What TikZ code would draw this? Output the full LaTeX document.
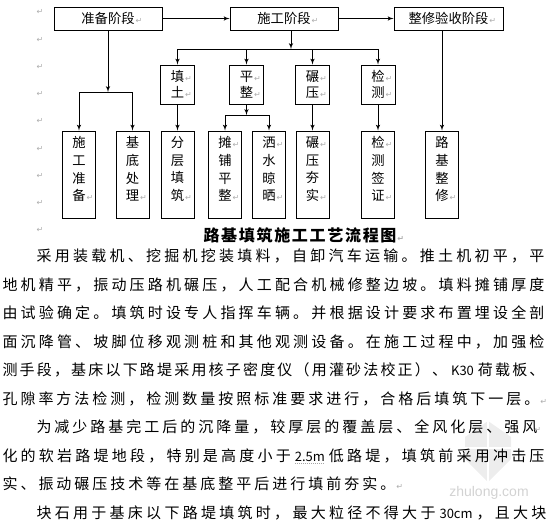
\documentclass[tikz,border=0pt]{standalone}
\usepackage{fontspec}
\usepackage{xcolor}
\usepackage{tikz}
\usetikzlibrary{arrows,calc,positioning}
\setmainfont{Noto Sans CJK SC}
\newfontfamily\markfont{DejaVu Sans}
\newfontfamily\wmfont{Liberation Sans}
% spacing between Chinese characters
\newdimen\hangap
\hangap=3pt
\chardef\hanclass=10
\newcount\hancount
\newcommand\sethanrange[2]{%
	\hancount=#1\relax
	\loop
		\XeTeXcharclass\hancount=\hanclass
	\ifnum\hancount<#2\relax
		\advance\hancount by 1\relax
	\repeat}
\sethanrange{"3000}{"303F}
\sethanrange{"4E00}{"9FFF}
\sethanrange{"FF00}{"FFEF}
\XeTeXinterchartoks\hanclass\hanclass={\hskip\hangap plus 1fil\relax}
\newcommand\boxfont{\fontsize{13.3}{16}\selectfont}
\newcommand\workfont{\fontsize{13.3}{17.7}\selectfont}
\newcommand\bodyfont{\fontsize{15}{15}\selectfont\XeTeXinterchartokenstate=1 \hangap=3pt\relax}
\newcommand\titlefont{\fontsize{16}{16}\selectfont\bfseries\XeTeXinterchartokenstate=1 \hangap=1.7pt\relax}
\newcommand\pmark{\rlap{\kern1pt\textcolor{gray!65}{\markfont\fontsize{8}{8}\selectfont ↵}}}
\newcommand\latin[1]{\hspace{4pt}{\fontsize{13}{13}\selectfont#1}\hspace{4pt}}
\newcommand\dotul[1]{\setbox0=\hbox{#1}\rlap{\raisebox{-2.5pt}{\color{gray!70}\hbox to \wd0{\leaders\hbox to 2pt{\vrule width 1pt height .7pt\hss}\hfil}}}\box0}
\tikzset{%
	stagebox/.style = {draw, rectangle, minimum width=108pt, minimum height=23pt, font=\boxfont},
	stepbox/.style  = {draw, rectangle, minimum width=34pt, minimum height=39pt, align=center, font=\boxfont},
	workbox/.style  = {draw, rectangle, minimum width=33pt, minimum height=87pt, align=center, font=\workfont},
	waypoint/.style = {coordinate},
	bodyline/.style = {anchor=base west, inner sep=0pt, font=\bodyfont},
	retmark/.style  = {inner sep=0pt, text=gray!65, font=\markfont\fontsize{8}{8}\selectfont},
}

\begin{document}
\begin{tikzpicture}[x=1pt,y=-1pt,>=latex',line width=1pt]
	\useasboundingbox (0,0) rectangle (550,520);
	% stages
	\node [stagebox] (zb) at (108,18.5) {准备阶段\pmark};
	\node [stagebox] (sg) [right of=zb,node distance=176pt] {施工阶段\pmark};
	\node [stagebox,minimum width=109pt] (zx) [right of=sg,node distance=164.5pt] {整修验收阶段\pmark};
	
	% work steps
	\node [workbox] (sgzb) at (79,174.5) {施\\工\\准\\备\pmark\\[-6pt]\mbox{}};
	\node [workbox] (jdcl) [right of=sgzb,node distance=53.5pt] {基\\底\\处\\理\pmark\\[-6pt]\mbox{}};
	\node [workbox] (fctz) [right of=jdcl,node distance=45pt] {分\\层\\填\\筑\pmark\\[-6pt]\mbox{}};
	\node [workbox] (tppz) [right of=fctz,node distance=47.5pt] {摊\pmark\\铺\\平\\整\pmark\\[-6pt]\mbox{}};
	\node [workbox] (ssll) [right of=tppz,node distance=44pt] {洒\pmark\\水\\晾\\晒\pmark\\[-6pt]\mbox{}};
	\node [workbox] (nyhs) [right of=ssll,node distance=43.5pt] {碾\pmark\\压\\夯\\实\pmark\\[-6pt]\mbox{}};
	\node [workbox] (jcqz) [right of=nyhs,node distance=65.5pt] {检\pmark\\测\\签\\证\pmark\\[-6pt]\mbox{}};
	\node [workbox] (ljzx) [right of=jcqz,node distance=64pt] {路\\基\\整\\修\pmark\\[-6pt]\mbox{}};
	
	\node [stepbox] (tt) [above of=fctz,node distance=90pt] {填\pmark\\土\pmark};
	\node [stepbox] (pz) [right of=tt,node distance=69pt] {平\pmark\\整\pmark};
	\node [stepbox] (ny) [above of=nyhs,node distance=90pt] {碾\pmark\\压\pmark};
	\node [stepbox] (jc) [above of=jcqz,node distance=90pt] {检\pmark\\测\pmark};
	
	\node [waypoint] (zbsplit) [below of=zb,node distance=73.5pt] {};
	\node [waypoint] (sgsplit) [below of=sg,node distance=30.5pt,xshift=7pt] {};
	\node [waypoint] (pzsplit) [below of=pz,node distance=30.5pt] {};
	
	\draw[->] (zb) -- (sg);
	\draw[->] (sg) -- (zx);
	\draw[->] (zb) -- (zbsplit);
	\draw[->] (zbsplit) -| (sgzb);
	\draw[->] (zbsplit) -| (jdcl);
	\draw[->] (sg.south -| sgsplit) -- (sgsplit);
	\draw[->] (sgsplit) -| (tt);
	\draw[->] (sgsplit) -| (pz);
	\draw[->] (sgsplit) -| (ny);
	\draw[->] (sgsplit) -| (jc);
	\draw[->] (tt) -- (fctz);
	\draw[->] (pz) -- (pzsplit);
	\draw[->] (pzsplit) -| (tppz);
	\draw[->] (pzsplit) -| (ssll);
	\draw[->] (ny) -- (nyhs);
	\draw[->] (jc) -- (jcqz);
	\draw[->] (zx.south -| ljzx) -- (ljzx);
	
	\foreach \y [count=\i] in {12,40,67,94,121,149,176,203,230}
		\node [retmark] (lm\i) at (40,\y) {↵};
	\node [font=\titlefont] (title) at (300,235) {路基填筑施工工艺流程图\pmark};
	
	% watermark
	\fill[gray!14] (488,421) -- (511,437) -- (511,459) -- (488,482) -- (465,459) -- (465,437) -- cycle;
	\draw[white,line width=2pt] (488,421) -- (488,482);
	\draw[white,line width=2pt] (465,448) -- (511,448);
	\node [text=gray!35,font=\wmfont\fontsize{14}{14}\selectfont] (wm) at (489,493) {zhulong.com};
	
	% text
	\node [bodyline] (p1) at (36,261.5) {\makebox[508pt][s]{采用装载机、挖掘机挖装填料，自卸汽车运输。推土机初平，平}};
	\node [bodyline] (p2) at (2,290) {\makebox[542pt][s]{地机精平，振动压路机碾压，人工配合机械修整边坡。填料摊铺厚度}};
	\node [bodyline] (p3) at (2,318.5) {\makebox[542pt][s]{由试验确定。填筑时设专人指挥车辆。并根据设计要求布置埋设全剖}};
	\node [bodyline] (p4) at (2,347) {\makebox[542pt][s]{面沉降管、坡脚位移观测桩和其他观测设备。在施工过程中，加强检}};
	\node [bodyline] (p5) at (2,375.5) {\hangap=0.5pt\makebox[542pt][s]{测手段，基床以下路堤采用核子密度仪（用灌砂法校正）、\latin{K30}荷载板、}};
	\node [bodyline] (p6) at (2,404) {孔隙率方法检测，检测数量按照标准要求进行，合格后填筑下一层。\pmark};
	\node [bodyline] (p7) at (36,432.5) {\makebox[497pt][s]{为减少路基完工后的沉降量，较厚层的覆盖层、全风化层、强风}\pmark};
	\node [bodyline] (p8) at (2,461) {\makebox[542pt][s]{化的软岩路堤地段，特别是高度小于\latin{\dotul{2.5m}}低路堤，填筑前采用冲击压}};
	\node [bodyline] (p9) at (2,489.5) {实、振动碾压技术等在基底整平后进行填前夯实。\pmark};
	\node [bodyline] (p10) at (36,518) {\makebox[510pt][s]{块石用于基床以下路堤填筑时，最大粒径不得大于\latin{\dotul{30cm}}，且大块}};
\end{tikzpicture}
\end{document}
